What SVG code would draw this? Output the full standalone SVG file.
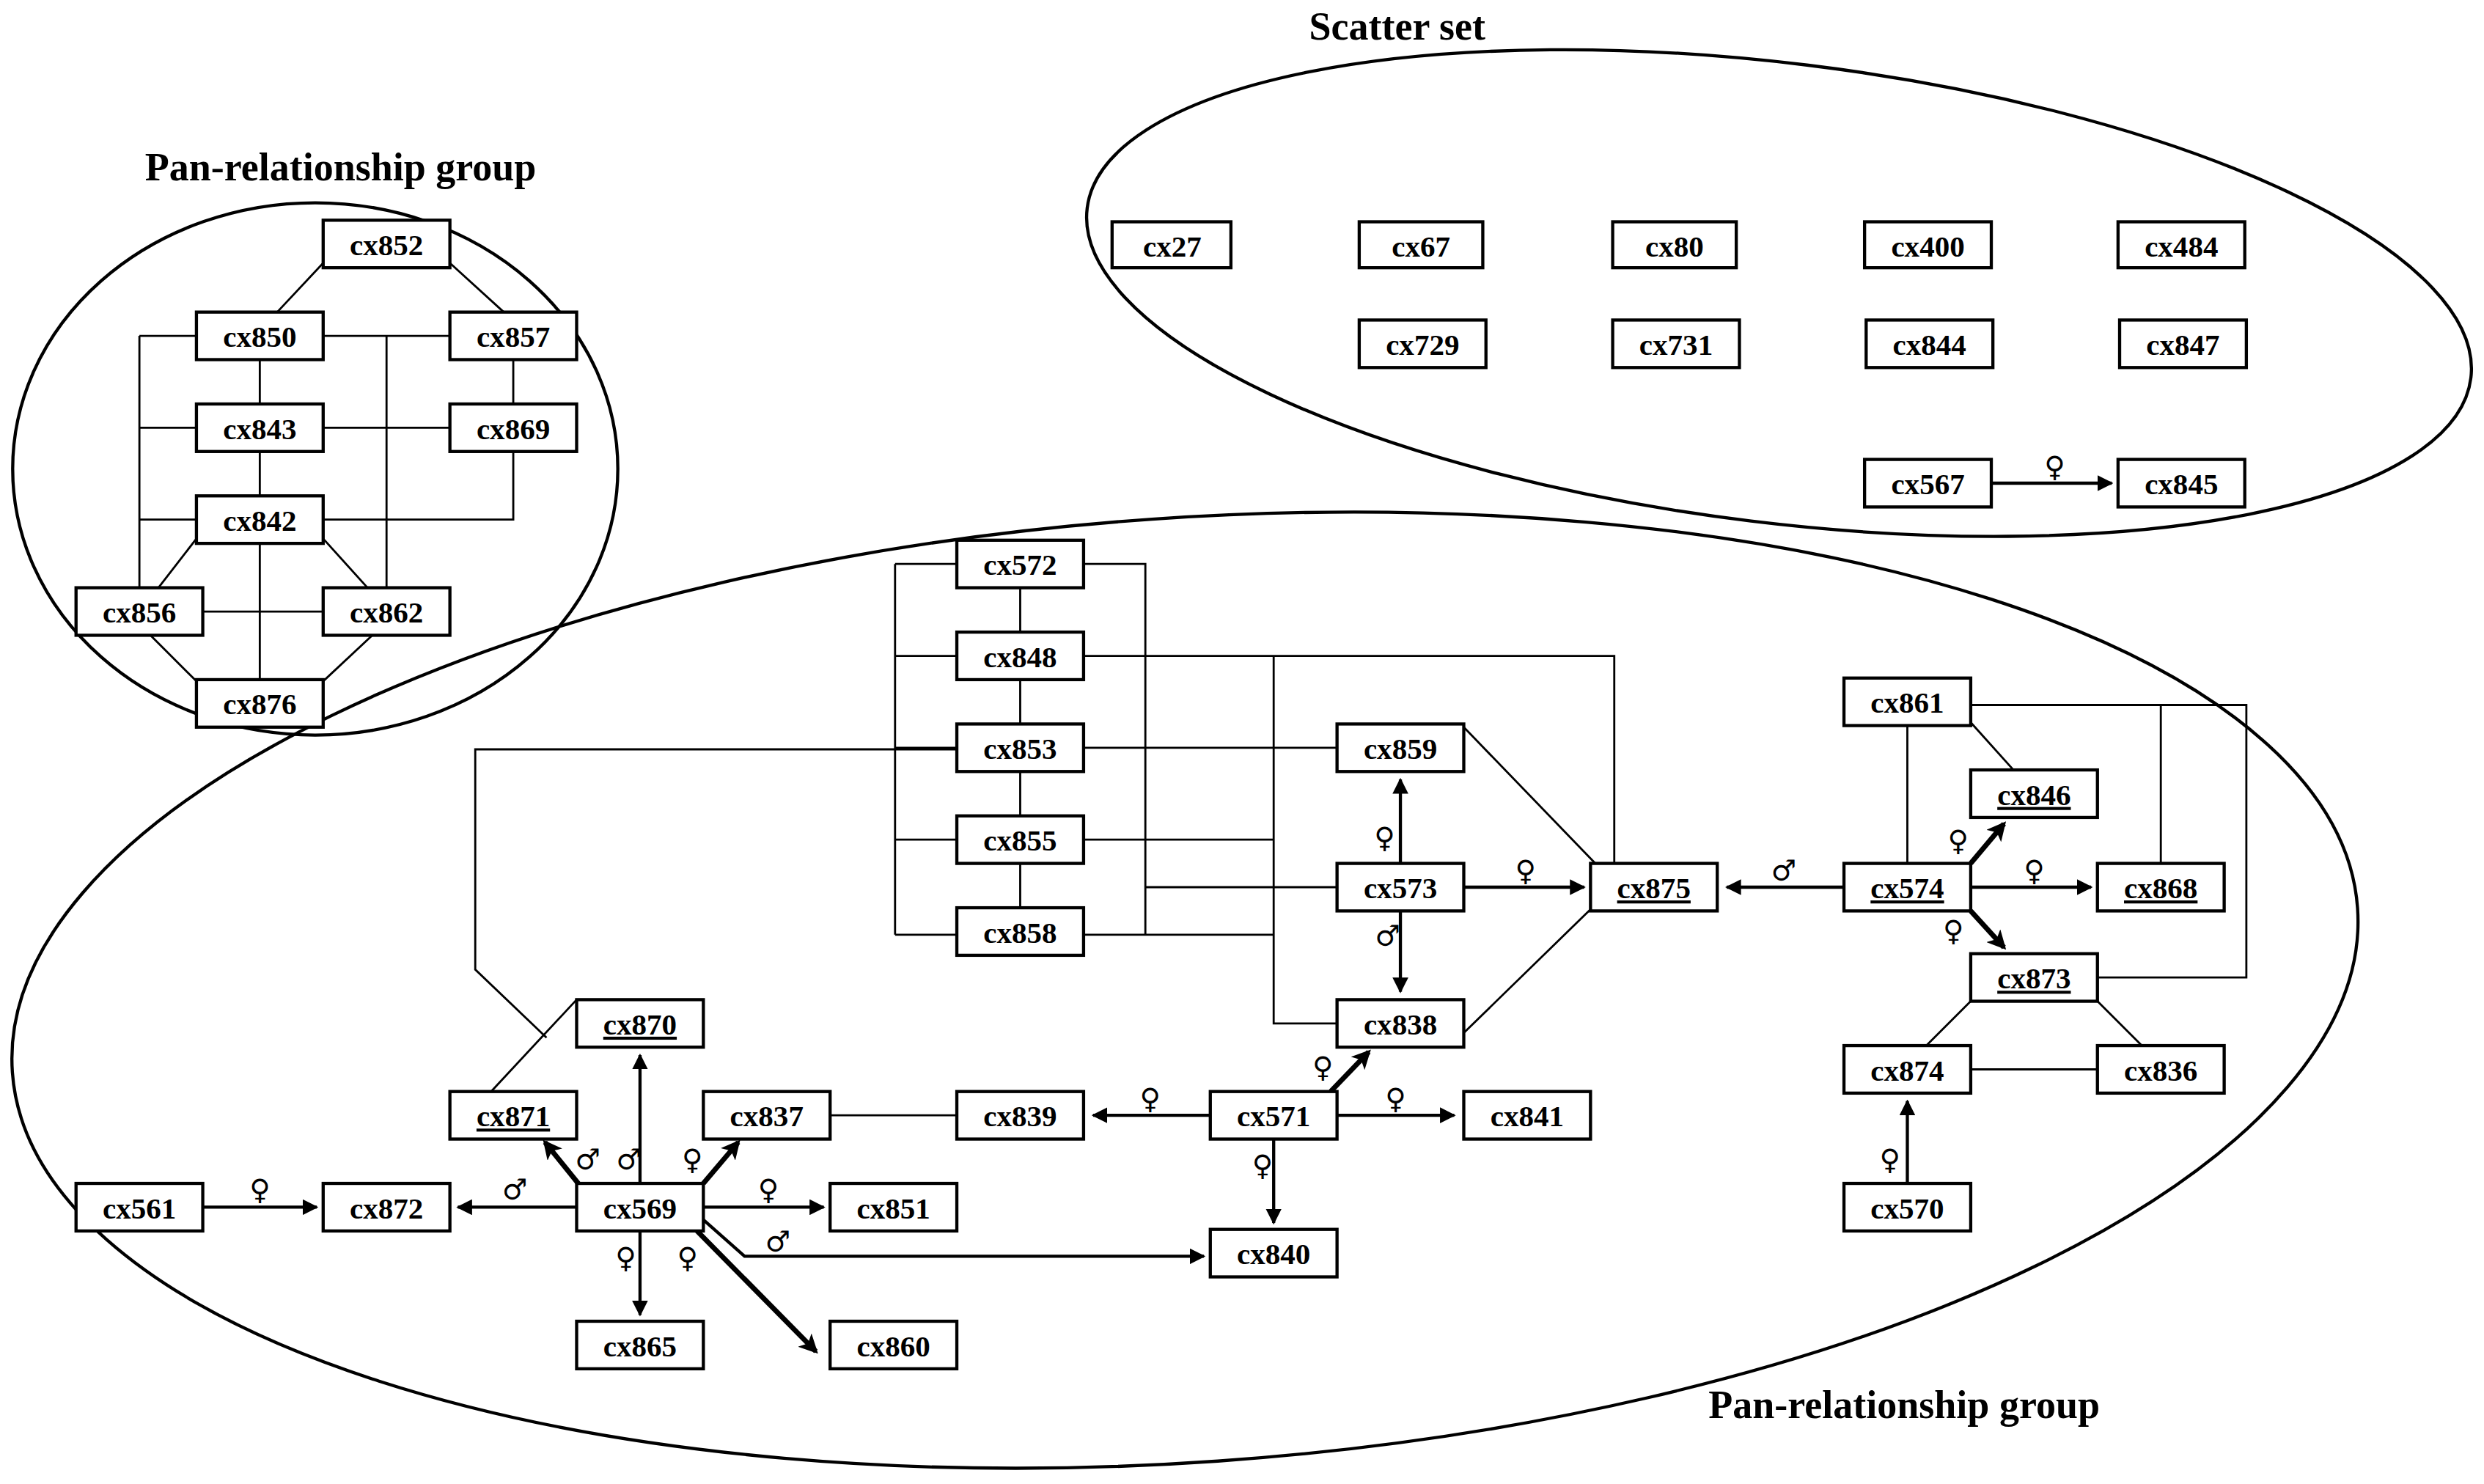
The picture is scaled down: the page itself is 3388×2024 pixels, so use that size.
<svg xmlns="http://www.w3.org/2000/svg" width="3388" height="2024" viewBox="0 0 3388 2024">
<style>
.b{fill:#fff;stroke:#000;stroke-width:2}
.t{font-family:"Liberation Serif",serif;font-weight:bold;font-size:19px;text-anchor:middle}
.u{text-decoration:underline}
.h{font-family:"Liberation Serif",serif;font-weight:bold;font-size:25px;text-anchor:middle}
.l{fill:none;stroke:#000;stroke-width:1.3}
.a{fill:none;stroke:#000;stroke-width:2;marker-end:url(#m)}
.k{fill:none;stroke:#000;stroke-width:3.2;marker-end:url(#m2)}
.s{font-family:"DejaVu Serif",serif;font-style:italic;font-size:18px;text-anchor:middle}
.e{fill:none;stroke:#000;stroke-width:2}
</style>
<defs>
<marker id="m" markerWidth="10" markerHeight="10" refX="9" refY="5" orient="auto" markerUnits="userSpaceOnUse"><path d="M0,0 L10,5 L0,10 Z"/></marker>
<marker id="m2" markerWidth="12" markerHeight="12" refX="10" refY="6" orient="auto" markerUnits="userSpaceOnUse"><path d="M0,0 L12,6 L0,12 L3,6 Z"/></marker>
</defs>
<rect width="3388" height="2024" fill="#fff"/>
<g transform="scale(2.1607)">
<g id="frames">
<ellipse class="e" cx="199" cy="296" rx="191" ry="168"/>
<ellipse class="e" cx="1123" cy="185" rx="440" ry="145" transform="rotate(7 1123 185)"/>
<ellipse class="e" cx="748" cy="625" rx="742" ry="298" transform="rotate(-4 748 625)"/>
<text class="h" x="215" y="114">Pan-relationship group</text>
<text class="h" x="882" y="25">Scatter set</text>
<text class="h" x="1202" y="895">Pan-relationship group</text>
</g>
<g id="connectors">
<path class="l" d="M204,166L175,197M284,166L318,197M204,212H284M164,227V255M164,285V313M164,343V429M88,212V371M88,212H124M88,270H124M88,328H124M244,212V371M204,270H284M324,227V255M324,285V328H204M124,340L100,371M204,340L232,371M128,386H204M95,401L124,430M235,401L204,430"/>
<path class="l" d="M565,356V590M565,356H604M565,414H604M565,472H604M565,530H604M565,590H604M644,371V399M644,429V457M644,487V515M644,545V573M684,356H723V590M684,590H804M684,530H804M684,414H1019V545M804,414V646H844M723,560H844M684,472H844M604,473H300V612L345,655M310,689L364,631M924,459L1007,545M924,652L1004,574M1244,445H1418V617H1324M1204,458V545M1244,456L1271,486M1364,445V545M1244,632L1216,660M1324,632L1352,660M1244,675H1324M524,704H604"/>
<line class="a" x1="1257" y1="305" x2="1333" y2="305"/>
<line class="a" x1="884" y1="545" x2="884" y2="492"/>
<line class="a" x1="884" y1="575" x2="884" y2="626"/>
<line class="a" x1="924" y1="560" x2="1000" y2="560"/>
<line class="a" x1="1164" y1="560" x2="1090" y2="560"/>
<line class="a" x1="1244" y1="560" x2="1320" y2="560"/>
<line class="a" x1="764" y1="704" x2="690" y2="704"/>
<line class="a" x1="844" y1="704" x2="918" y2="704"/>
<line class="a" x1="804" y1="719" x2="804" y2="772"/>
<line class="a" x1="404" y1="747" x2="404" y2="666"/>
<line class="a" x1="444" y1="762" x2="520" y2="762"/>
<line class="a" x1="365" y1="762" x2="289" y2="762"/>
<line class="a" x1="404" y1="777" x2="404" y2="830"/>
<path class="a" d="M444,770L470,793H760"/>
<line class="a" x1="128" y1="762" x2="200" y2="762"/>
<line class="a" x1="1204" y1="747" x2="1204" y2="695"/>
<line class="k" x1="1244" y1="545" x2="1265" y2="520"/>
<line class="k" x1="1244" y1="575" x2="1265" y2="598"/>
<line class="k" x1="840" y1="689" x2="864" y2="664"/>
<line class="k" x1="365" y1="747" x2="344" y2="721"/>
<line class="k" x1="444" y1="747" x2="466" y2="721"/>
<line class="k" x1="440" y1="777" x2="515" y2="853"/>
<text class="s" x="1297" y="301">♀</text>
<text class="s" x="874" y="535">♀</text>
<text class="s" x="876" y="597">♂</text>
<text class="s" x="963" y="556">♀</text>
<text class="s" x="1126" y="556">♂</text>
<text class="s" x="1236" y="537">♀</text>
<text class="s" x="1284" y="556">♀</text>
<text class="s" x="1233" y="594">♀</text>
<text class="s" x="1193" y="738">♀</text>
<text class="s" x="835" y="680">♀</text>
<text class="s" x="726" y="700">♀</text>
<text class="s" x="881" y="700">♀</text>
<text class="s" x="797" y="742">♀</text>
<text class="s" x="371" y="738">♂</text>
<text class="s" x="397" y="738">♂</text>
<text class="s" x="437" y="738">♀</text>
<text class="s" x="485" y="757">♀</text>
<text class="s" x="325" y="757">♂</text>
<text class="s" x="395" y="800">♀</text>
<text class="s" x="434" y="800">♀</text>
<text class="s" x="491" y="790">♂</text>
<text class="s" x="164" y="757">♀</text>
</g>
<g id="n852"><rect class="b" x="204" y="139" width="80" height="30"/><text class="t" x="244" y="161">cx852</text></g>
<g id="n850"><rect class="b" x="124" y="197" width="80" height="30"/><text class="t" x="164" y="219">cx850</text></g>
<g id="n857"><rect class="b" x="284" y="197" width="80" height="30"/><text class="t" x="324" y="219">cx857</text></g>
<g id="n843"><rect class="b" x="124" y="255" width="80" height="30"/><text class="t" x="164" y="277">cx843</text></g>
<g id="n869"><rect class="b" x="284" y="255" width="80" height="30"/><text class="t" x="324" y="277">cx869</text></g>
<g id="n842"><rect class="b" x="124" y="313" width="80" height="30"/><text class="t" x="164" y="335">cx842</text></g>
<g id="n856"><rect class="b" x="48" y="371" width="80" height="30"/><text class="t" x="88" y="393">cx856</text></g>
<g id="n862"><rect class="b" x="204" y="371" width="80" height="30"/><text class="t" x="244" y="393">cx862</text></g>
<g id="n876"><rect class="b" x="124" y="429" width="80" height="30"/><text class="t" x="164" y="451">cx876</text></g>
<g id="n27"><rect class="b" x="702" y="140" width="75" height="29"/><text class="t" x="740" y="162">cx27</text></g>
<g id="n67"><rect class="b" x="858" y="140" width="78" height="29"/><text class="t" x="897" y="162">cx67</text></g>
<g id="n80"><rect class="b" x="1018" y="140" width="78" height="29"/><text class="t" x="1057" y="162">cx80</text></g>
<g id="n400"><rect class="b" x="1177" y="140" width="80" height="29"/><text class="t" x="1217" y="162">cx400</text></g>
<g id="n484"><rect class="b" x="1337" y="140" width="80" height="29"/><text class="t" x="1377" y="162">cx484</text></g>
<g id="n729"><rect class="b" x="858" y="202" width="80" height="30"/><text class="t" x="898" y="224">cx729</text></g>
<g id="n731"><rect class="b" x="1018" y="202" width="80" height="30"/><text class="t" x="1058" y="224">cx731</text></g>
<g id="n844"><rect class="b" x="1178" y="202" width="80" height="30"/><text class="t" x="1218" y="224">cx844</text></g>
<g id="n847"><rect class="b" x="1338" y="202" width="80" height="30"/><text class="t" x="1378" y="224">cx847</text></g>
<g id="n567"><rect class="b" x="1177" y="290" width="80" height="30"/><text class="t" x="1217" y="312">cx567</text></g>
<g id="n845"><rect class="b" x="1337" y="290" width="80" height="30"/><text class="t" x="1377" y="312">cx845</text></g>
<g id="n572"><rect class="b" x="604" y="341" width="80" height="30"/><text class="t" x="644" y="363">cx572</text></g>
<g id="n848"><rect class="b" x="604" y="399" width="80" height="30"/><text class="t" x="644" y="421">cx848</text></g>
<g id="n853"><rect class="b" x="604" y="457" width="80" height="30"/><text class="t" x="644" y="479">cx853</text></g>
<g id="n855"><rect class="b" x="604" y="515" width="80" height="30"/><text class="t" x="644" y="537">cx855</text></g>
<g id="n858"><rect class="b" x="604" y="573" width="80" height="30"/><text class="t" x="644" y="595">cx858</text></g>
<g id="n859"><rect class="b" x="844" y="457" width="80" height="30"/><text class="t" x="884" y="479">cx859</text></g>
<g id="n573"><rect class="b" x="844" y="545" width="80" height="30"/><text class="t" x="884" y="567">cx573</text></g>
<g id="n838"><rect class="b" x="844" y="631" width="80" height="30"/><text class="t" x="884" y="653">cx838</text></g>
<g id="n875"><rect class="b" x="1004" y="545" width="80" height="30"/><text class="t u" x="1044" y="567">cx875</text></g>
<g id="n861"><rect class="b" x="1164" y="428" width="80" height="30"/><text class="t" x="1204" y="450">cx861</text></g>
<g id="n846"><rect class="b" x="1244" y="486" width="80" height="30"/><text class="t u" x="1284" y="508">cx846</text></g>
<g id="n574"><rect class="b" x="1164" y="545" width="80" height="30"/><text class="t u" x="1204" y="567">cx574</text></g>
<g id="n868"><rect class="b" x="1324" y="545" width="80" height="30"/><text class="t u" x="1364" y="567">cx868</text></g>
<g id="n873"><rect class="b" x="1244" y="602" width="80" height="30"/><text class="t u" x="1284" y="624">cx873</text></g>
<g id="n874"><rect class="b" x="1164" y="660" width="80" height="30"/><text class="t" x="1204" y="682">cx874</text></g>
<g id="n836"><rect class="b" x="1324" y="660" width="80" height="30"/><text class="t" x="1364" y="682">cx836</text></g>
<g id="n570"><rect class="b" x="1164" y="747" width="80" height="30"/><text class="t" x="1204" y="769">cx570</text></g>
<g id="n870"><rect class="b" x="364" y="631" width="80" height="30"/><text class="t u" x="404" y="653">cx870</text></g>
<g id="n871"><rect class="b" x="284" y="689" width="80" height="30"/><text class="t u" x="324" y="711">cx871</text></g>
<g id="n837"><rect class="b" x="444" y="689" width="80" height="30"/><text class="t" x="484" y="711">cx837</text></g>
<g id="n839"><rect class="b" x="604" y="689" width="80" height="30"/><text class="t" x="644" y="711">cx839</text></g>
<g id="n571"><rect class="b" x="764" y="689" width="80" height="30"/><text class="t" x="804" y="711">cx571</text></g>
<g id="n841"><rect class="b" x="924" y="689" width="80" height="30"/><text class="t" x="964" y="711">cx841</text></g>
<g id="n561"><rect class="b" x="48" y="747" width="80" height="30"/><text class="t" x="88" y="769">cx561</text></g>
<g id="n872"><rect class="b" x="204" y="747" width="80" height="30"/><text class="t" x="244" y="769">cx872</text></g>
<g id="n569"><rect class="b" x="364" y="747" width="80" height="30"/><text class="t" x="404" y="769">cx569</text></g>
<g id="n851"><rect class="b" x="524" y="747" width="80" height="30"/><text class="t" x="564" y="769">cx851</text></g>
<g id="n840"><rect class="b" x="764" y="776" width="80" height="30"/><text class="t" x="804" y="798">cx840</text></g>
<g id="n865"><rect class="b" x="364" y="834" width="80" height="30"/><text class="t" x="404" y="856">cx865</text></g>
<g id="n860"><rect class="b" x="524" y="834" width="80" height="30"/><text class="t" x="564" y="856">cx860</text></g>
</g>
</svg>
